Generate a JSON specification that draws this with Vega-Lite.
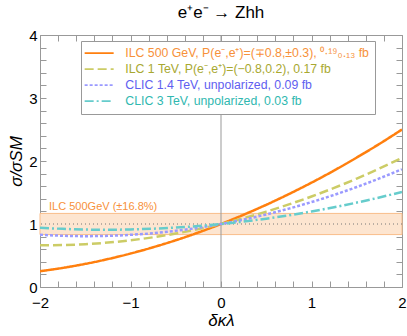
{
  "$schema": "https://vega.github.io/schema/vega-lite/v6.json",
  "width": 362,
  "height": 252,
  "autosize": {"type": "none"},
  "padding": {"left": 40, "top": 35, "right": 5, "bottom": 49},
  "background": "white",
  "title": {"text": "e⁺e⁻ → Zhh", "fontSize": 17, "font": "Liberation Sans", "fontWeight": "normal", "color": "black", "offset": 6, "anchor": "middle"},
  "config": {"view": {"stroke": "#999", "strokeWidth": 1}, "font": "Liberation Sans"},
  "datasets": {
    "curves": [
      {"d": -2, "r": 0.25, "s": "ILC 500 GeV, P(e⁻,e⁺)=(∓0.8,±0.3), ⁰·¹⁹₀.₁₃ fb"},
      {"d": -1.75, "r": 0.303, "s": "ILC 500 GeV, P(e⁻,e⁺)=(∓0.8,±0.3), ⁰·¹⁹₀.₁₃ fb"},
      {"d": -1.5, "r": 0.367, "s": "ILC 500 GeV, P(e⁻,e⁺)=(∓0.8,±0.3), ⁰·¹⁹₀.₁₃ fb"},
      {"d": -1.25, "r": 0.443, "s": "ILC 500 GeV, P(e⁻,e⁺)=(∓0.8,±0.3), ⁰·¹⁹₀.₁₃ fb"},
      {"d": -1, "r": 0.531, "s": "ILC 500 GeV, P(e⁻,e⁺)=(∓0.8,±0.3), ⁰·¹⁹₀.₁₃ fb"},
      {"d": -0.75, "r": 0.631, "s": "ILC 500 GeV, P(e⁻,e⁺)=(∓0.8,±0.3), ⁰·¹⁹₀.₁₃ fb"},
      {"d": -0.5, "r": 0.742, "s": "ILC 500 GeV, P(e⁻,e⁺)=(∓0.8,±0.3), ⁰·¹⁹₀.₁₃ fb"},
      {"d": -0.25, "r": 0.865, "s": "ILC 500 GeV, P(e⁻,e⁺)=(∓0.8,±0.3), ⁰·¹⁹₀.₁₃ fb"},
      {"d": 0, "r": 1, "s": "ILC 500 GeV, P(e⁻,e⁺)=(∓0.8,±0.3), ⁰·¹⁹₀.₁₃ fb"},
      {"d": 0.25, "r": 1.147, "s": "ILC 500 GeV, P(e⁻,e⁺)=(∓0.8,±0.3), ⁰·¹⁹₀.₁₃ fb"},
      {"d": 0.5, "r": 1.305, "s": "ILC 500 GeV, P(e⁻,e⁺)=(∓0.8,±0.3), ⁰·¹⁹₀.₁₃ fb"},
      {"d": 0.75, "r": 1.475, "s": "ILC 500 GeV, P(e⁻,e⁺)=(∓0.8,±0.3), ⁰·¹⁹₀.₁₃ fb"},
      {"d": 1, "r": 1.656, "s": "ILC 500 GeV, P(e⁻,e⁺)=(∓0.8,±0.3), ⁰·¹⁹₀.₁₃ fb"},
      {"d": 1.25, "r": 1.849, "s": "ILC 500 GeV, P(e⁻,e⁺)=(∓0.8,±0.3), ⁰·¹⁹₀.₁₃ fb"},
      {"d": 1.5, "r": 2.055, "s": "ILC 500 GeV, P(e⁻,e⁺)=(∓0.8,±0.3), ⁰·¹⁹₀.₁₃ fb"},
      {"d": 1.75, "r": 2.271, "s": "ILC 500 GeV, P(e⁻,e⁺)=(∓0.8,±0.3), ⁰·¹⁹₀.₁₃ fb"},
      {"d": 2, "r": 2.5, "s": "ILC 500 GeV, P(e⁻,e⁺)=(∓0.8,±0.3), ⁰·¹⁹₀.₁₃ fb"},
      {"d": -2, "r": 0.661, "s": "ILC 1 TeV, P(e⁻,e⁺)=(−0.8,0.2), 0.17 fb"},
      {"d": -1.75, "r": 0.665, "s": "ILC 1 TeV, P(e⁻,e⁺)=(−0.8,0.2), 0.17 fb"},
      {"d": -1.5, "r": 0.679, "s": "ILC 1 TeV, P(e⁻,e⁺)=(−0.8,0.2), 0.17 fb"},
      {"d": -1.25, "r": 0.705, "s": "ILC 1 TeV, P(e⁻,e⁺)=(−0.8,0.2), 0.17 fb"},
      {"d": -1, "r": 0.742, "s": "ILC 1 TeV, P(e⁻,e⁺)=(−0.8,0.2), 0.17 fb"},
      {"d": -0.75, "r": 0.789, "s": "ILC 1 TeV, P(e⁻,e⁺)=(−0.8,0.2), 0.17 fb"},
      {"d": -0.5, "r": 0.848, "s": "ILC 1 TeV, P(e⁻,e⁺)=(−0.8,0.2), 0.17 fb"},
      {"d": -0.25, "r": 0.919, "s": "ILC 1 TeV, P(e⁻,e⁺)=(−0.8,0.2), 0.17 fb"},
      {"d": 0, "r": 1, "s": "ILC 1 TeV, P(e⁻,e⁺)=(−0.8,0.2), 0.17 fb"},
      {"d": 0.25, "r": 1.093, "s": "ILC 1 TeV, P(e⁻,e⁺)=(−0.8,0.2), 0.17 fb"},
      {"d": 0.5, "r": 1.196, "s": "ILC 1 TeV, P(e⁻,e⁺)=(−0.8,0.2), 0.17 fb"},
      {"d": 0.75, "r": 1.311, "s": "ILC 1 TeV, P(e⁻,e⁺)=(−0.8,0.2), 0.17 fb"},
      {"d": 1, "r": 1.437, "s": "ILC 1 TeV, P(e⁻,e⁺)=(−0.8,0.2), 0.17 fb"},
      {"d": 1.25, "r": 1.573, "s": "ILC 1 TeV, P(e⁻,e⁺)=(−0.8,0.2), 0.17 fb"},
      {"d": 1.5, "r": 1.721, "s": "ILC 1 TeV, P(e⁻,e⁺)=(−0.8,0.2), 0.17 fb"},
      {"d": 1.75, "r": 1.881, "s": "ILC 1 TeV, P(e⁻,e⁺)=(−0.8,0.2), 0.17 fb"},
      {"d": 2, "r": 2.051, "s": "ILC 1 TeV, P(e⁻,e⁺)=(−0.8,0.2), 0.17 fb"},
      {"d": -2, "r": 0.83, "s": "CLIC 1.4 TeV, unpolarized, 0.09 fb"},
      {"d": -1.75, "r": 0.813, "s": "CLIC 1.4 TeV, unpolarized, 0.09 fb"},
      {"d": -1.5, "r": 0.807, "s": "CLIC 1.4 TeV, unpolarized, 0.09 fb"},
      {"d": -1.25, "r": 0.812, "s": "CLIC 1.4 TeV, unpolarized, 0.09 fb"},
      {"d": -1, "r": 0.828, "s": "CLIC 1.4 TeV, unpolarized, 0.09 fb"},
      {"d": -0.75, "r": 0.854, "s": "CLIC 1.4 TeV, unpolarized, 0.09 fb"},
      {"d": -0.5, "r": 0.892, "s": "CLIC 1.4 TeV, unpolarized, 0.09 fb"},
      {"d": -0.25, "r": 0.94, "s": "CLIC 1.4 TeV, unpolarized, 0.09 fb"},
      {"d": 0, "r": 1, "s": "CLIC 1.4 TeV, unpolarized, 0.09 fb"},
      {"d": 0.25, "r": 1.07, "s": "CLIC 1.4 TeV, unpolarized, 0.09 fb"},
      {"d": 0.5, "r": 1.152, "s": "CLIC 1.4 TeV, unpolarized, 0.09 fb"},
      {"d": 0.75, "r": 1.244, "s": "CLIC 1.4 TeV, unpolarized, 0.09 fb"},
      {"d": 1, "r": 1.348, "s": "CLIC 1.4 TeV, unpolarized, 0.09 fb"},
      {"d": 1.25, "r": 1.462, "s": "CLIC 1.4 TeV, unpolarized, 0.09 fb"},
      {"d": 1.5, "r": 1.587, "s": "CLIC 1.4 TeV, unpolarized, 0.09 fb"},
      {"d": 1.75, "r": 1.723, "s": "CLIC 1.4 TeV, unpolarized, 0.09 fb"},
      {"d": 2, "r": 1.87, "s": "CLIC 1.4 TeV, unpolarized, 0.09 fb"},
      {"d": -2, "r": 0.939, "s": "CLIC 3 TeV, unpolarized, 0.03 fb"},
      {"d": -1.75, "r": 0.923, "s": "CLIC 3 TeV, unpolarized, 0.03 fb"},
      {"d": -1.5, "r": 0.912, "s": "CLIC 3 TeV, unpolarized, 0.03 fb"},
      {"d": -1.25, "r": 0.909, "s": "CLIC 3 TeV, unpolarized, 0.03 fb"},
      {"d": -1, "r": 0.914, "s": "CLIC 3 TeV, unpolarized, 0.03 fb"},
      {"d": -0.75, "r": 0.925, "s": "CLIC 3 TeV, unpolarized, 0.03 fb"},
      {"d": -0.5, "r": 0.943, "s": "CLIC 3 TeV, unpolarized, 0.03 fb"},
      {"d": -0.25, "r": 0.968, "s": "CLIC 3 TeV, unpolarized, 0.03 fb"},
      {"d": 0, "r": 1, "s": "CLIC 3 TeV, unpolarized, 0.03 fb"},
      {"d": 0.25, "r": 1.039, "s": "CLIC 3 TeV, unpolarized, 0.03 fb"},
      {"d": 0.5, "r": 1.085, "s": "CLIC 3 TeV, unpolarized, 0.03 fb"},
      {"d": 0.75, "r": 1.138, "s": "CLIC 3 TeV, unpolarized, 0.03 fb"},
      {"d": 1, "r": 1.199, "s": "CLIC 3 TeV, unpolarized, 0.03 fb"},
      {"d": 1.25, "r": 1.266, "s": "CLIC 3 TeV, unpolarized, 0.03 fb"},
      {"d": 1.5, "r": 1.34, "s": "CLIC 3 TeV, unpolarized, 0.03 fb"},
      {"d": 1.75, "r": 1.421, "s": "CLIC 3 TeV, unpolarized, 0.03 fb"},
      {"d": 2, "r": 1.509, "s": "CLIC 3 TeV, unpolarized, 0.03 fb"}
    ],
    "band": [{"lo": 0.832, "hi": 1.168, "x0": -2, "x1": 2, "mid": 1, "label": "ILC 500GeV (±16.8%)", "lx": -1.9, "ly": 1.175}]
  },
  "resolve": {"axis": {"x": "independent", "y": "independent"}},
  "layer": [
    {
      "data": {"name": "band"},
      "mark": {"type": "rect", "fill": "#fde5d0", "stroke": "#f9bd8a", "strokeWidth": 1},
      "encoding": {
        "x": {"field": "x0", "type": "quantitative", "scale": {"domain": [-2, 2], "nice": false, "zero": false},
          "axis": {"orient": "bottom", "title": "δκλ", "titleFont": "Liberation Sans", "titleFontStyle": "italic", "titleFontWeight": "normal", "titleFontSize": 17, "titleColor": "black", "titlePadding": 2,
            "values": [-2, -1.8, -1.6, -1.4, -1.2, -1, -0.8, -0.6, -0.4, -0.2, 0, 0.2, 0.4, 0.6, 0.8, 1, 1.2, 1.4, 1.6, 1.8, 2],
            "labelExpr": "abs(datum.value - round(datum.value)) < 0.01 ? format(datum.value, 'd') : ''",
            "labelFontSize": 15, "labelColor": "black", "labelPadding": 14, "labelFlush": false, "labelOverlap": false,
            "domain": false, "grid": false, "tickSize": -6, "tickColor": "#999",
            "encode": {"ticks": {"update": {"y2": {"signal": "abs(datum.value - round(datum.value)) < 0.01 ? -6 : -3"}}}}}},
        "x2": {"field": "x1"},
        "y": {"field": "lo", "type": "quantitative", "scale": {"domain": [0, 4], "nice": false, "zero": false},
          "axis": {"orient": "left", "title": "σ/σSM", "titleFont": "Liberation Sans", "titleFontStyle": "italic", "titleFontWeight": "normal", "titleFontSize": 17, "titleColor": "black", "titlePadding": 3,
            "values": [0, 0.2, 0.4, 0.6, 0.8, 1, 1.2, 1.4, 1.6, 1.8, 2, 2.2, 2.4, 2.6, 2.8, 3, 3.2, 3.4, 3.6, 3.8, 4],
            "labelExpr": "abs(datum.value - round(datum.value)) < 0.01 ? format(datum.value, 'd') : ''",
            "labelFontSize": 15, "labelColor": "black", "labelPadding": 9, "labelFlush": false, "labelOverlap": false,
            "domain": false, "grid": false, "tickSize": -6, "tickColor": "#999",
            "encode": {"ticks": {"update": {"x2": {"signal": "abs(datum.value - round(datum.value)) < 0.01 ? 6 : 3"}}}}}},
        "y2": {"field": "hi"}
      }
    },
    {
      "data": {"name": "band"},
      "mark": {"type": "rule", "stroke": "#777", "strokeWidth": 1, "strokeDash": [1, 3]},
      "encoding": {
        "y": {"field": "mid", "type": "quantitative",
          "axis": {"orient": "right", "title": null, "labels": false, "domain": false, "grid": false,
            "values": [0, 0.2, 0.4, 0.6, 0.8, 1, 1.2, 1.4, 1.6, 1.8, 2, 2.2, 2.4, 2.6, 2.8, 3, 3.2, 3.4, 3.6, 3.8, 4],
            "tickSize": -6, "tickColor": "#999",
            "encode": {"ticks": {"update": {"x2": {"signal": "abs(datum.value - round(datum.value)) < 0.01 ? -6 : -3"}}}}}}
      }
    },
    {
      "data": {"values": [{"z": 0}]},
      "mark": {"type": "rule", "stroke": "#999", "strokeWidth": 1},
      "encoding": {
        "x": {"field": "z", "type": "quantitative",
          "axis": {"orient": "top", "title": null, "labels": false, "domain": false, "grid": false,
            "values": [-2, -1.8, -1.6, -1.4, -1.2, -1, -0.8, -0.6, -0.4, -0.2, 0, 0.2, 0.4, 0.6, 0.8, 1, 1.2, 1.4, 1.6, 1.8, 2],
            "tickSize": -6, "tickColor": "#999",
            "encode": {"ticks": {"update": {"y2": {"signal": "abs(datum.value - round(datum.value)) < 0.01 ? 6 : 3"}}}}}}
      }
    },
    {
      "data": {"name": "band"},
      "mark": {"type": "text", "color": "#f7913a", "fontSize": 11, "align": "left", "baseline": "bottom", "dy": -1},
      "encoding": {
        "x": {"field": "lx", "type": "quantitative", "axis": null},
        "y": {"field": "ly", "type": "quantitative", "axis": null},
        "text": {"field": "label"}
      }
    },
    {
      "data": {"name": "curves"},
      "mark": {"type": "line", "strokeWidth": 2.5, "interpolate": "monotone", "clip": true},
      "encoding": {
        "x": {"field": "d", "type": "quantitative", "axis": null},
        "y": {"field": "r", "type": "quantitative", "axis": null},
        "color": {"field": "s", "type": "nominal",
          "scale": {"domain": ["ILC 500 GeV, P(e⁻,e⁺)=(∓0.8,±0.3), ⁰·¹⁹₀.₁₃ fb", "ILC 1 TeV, P(e⁻,e⁺)=(−0.8,0.2), 0.17 fb", "CLIC 1.4 TeV, unpolarized, 0.09 fb", "CLIC 3 TeV, unpolarized, 0.03 fb"],
            "range": ["#ff7f0e", "#cccc66", "#9a9aff", "#66cccc"]},
          "legend": {"orient": "none", "legendX": 41, "legendY": 6, "title": null, "fillColor": "white", "strokeColor": "#999", "padding": 6,
            "symbolType": "M-2.9,0H2.9", "symbolSize": 100, "symbolOffset": 6, "symbolStrokeWidth": 1.8, "labelFontSize": 12.3, "labelOffset": 20, "rowPadding": 3, "labelLimit": 400,
            "encode": {"labels": {"update": {"fill": {"signal": "indexof(datum.label, 'ILC 500') === 0 ? '#f7913a' : indexof(datum.label, 'ILC 1') === 0 ? '#a8a830' : indexof(datum.label, 'CLIC 1.4') === 0 ? '#6060f0' : '#30b8b0'"}}}}}},
        "strokeDash": {"field": "s", "type": "nominal",
          "scale": {"domain": ["ILC 500 GeV, P(e⁻,e⁺)=(∓0.8,±0.3), ⁰·¹⁹₀.₁₃ fb", "ILC 1 TeV, P(e⁻,e⁺)=(−0.8,0.2), 0.17 fb", "CLIC 1.4 TeV, unpolarized, 0.09 fb", "CLIC 3 TeV, unpolarized, 0.03 fb"],
            "range": [[1, 0], [9, 4], [3, 2], [9, 3, 2, 3]]}}
      }
    }
  ]
}
